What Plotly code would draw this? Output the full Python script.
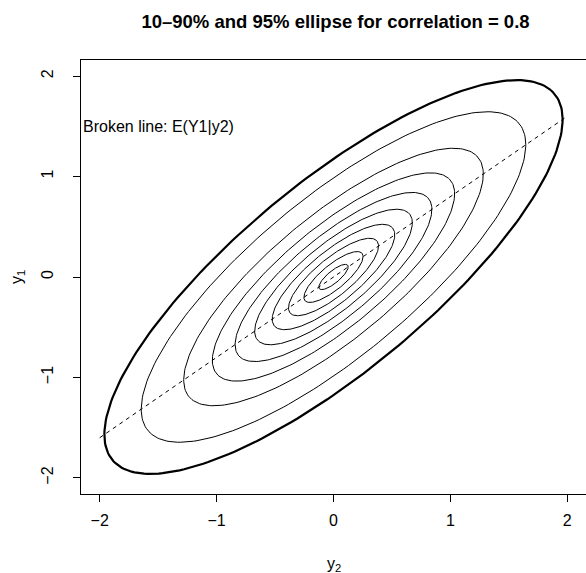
import numpy as np
import plotly.graph_objects as go
from statistics import NormalDist

# ---- data ----
rho = 0.8
inner_levels = [0.1, 0.2, 0.3, 0.4, 0.5, 0.6, 0.7, 0.8, 0.9]
outer_level = 0.95
line_y2 = [-2, 2]
x_ticks = [-2, -1, 0, 1, 2]
y_ticks = [-2, -1, 0, 1, 2]
note_text = "Broken line: E(Y1|y2)"
note_pos = (-1.5, 1.5)
title_text = "10\u201390% and 95% ellipse for correlation = 0.8"

FONT = "Liberation Sans, Arial, Helvetica, sans-serif"
FS = 16


def ellipse(level, r, n=240):
    t = NormalDist().inv_cdf(1 - (1 - level) / 2)
    d = np.arccos(r)
    a = np.linspace(0, 2 * np.pi, n)
    return t * np.cos(a + d / 2), t * np.cos(a - d / 2)


fig = go.Figure()
for lv in inner_levels:
    x, y = ellipse(lv, rho)
    fig.add_trace(go.Scatter(x=x, y=y, mode="lines",
                             line=dict(color="black", width=1),
                             showlegend=False, hoverinfo="skip"))
x, y = ellipse(outer_level, rho)
fig.add_trace(go.Scatter(x=x, y=y, mode="lines",
                         line=dict(color="black", width=2.2),
                         showlegend=False, hoverinfo="skip"))
fig.add_trace(go.Scatter(x=line_y2, y=[rho * v for v in line_y2], mode="lines",
                         line=dict(color="black", width=1, dash="4px,4px"),
                         showlegend=False, hoverinfo="skip"))

fig.add_annotation(x=note_pos[0], y=note_pos[1], text=note_text, showarrow=False,
                   xanchor="center", yanchor="middle",
                   font=dict(family=FONT, size=FS, color="black"))

# axis titles
fig.add_annotation(xref="paper", yref="paper", x=(333.5 - 81) / 505, y=-(564 - 494) / 434,
                   text="y<sub>2</sub>", showarrow=False, xanchor="center",
                   yanchor="middle", font=dict(family=FONT, size=FS, color="black"))
fig.add_annotation(xref="paper", yref="paper", x=(17 - 81) / 505, y=0.5,
                   text="y<sub>1</sub>", showarrow=False, textangle=-90,
                   xanchor="center", yanchor="middle",
                   font=dict(family=FONT, size=FS, color="black"))

fig.update_layout(
    width=586, height=573,
    margin=dict(l=81, r=0, t=60, b=79),
    paper_bgcolor="white", plot_bgcolor="white",
    font=dict(family=FONT, size=FS, color="black"),
    title=dict(text="<b>" + title_text + "</b>", x=335.5 / 586, xanchor="center",
               y=1 - 22 / 573, yanchor="middle",
               font=dict(family=FONT, size=18.5, color="black")),
    xaxis=dict(range=[-2.16, 2.16], tickvals=x_ticks,
               ticktext=[str(v).replace("-", "\u2212") for v in x_ticks],
               showgrid=False, zeroline=False, showline=True, mirror=True,
               linecolor="black", linewidth=1, ticks="outside", ticklen=7,
               tickcolor="black", tickwidth=1, ticklabelstandoff=5,
               tickfont=dict(family=FONT, size=FS, color="black")),
    yaxis=dict(range=[-2.16, 2.16], tickvals=y_ticks,
               ticktext=[str(v).replace("-", "\u2212") for v in y_ticks],
               showgrid=False, zeroline=False, showline=True, mirror=False,
               linecolor="black", linewidth=1, ticks="outside", ticklen=7,
               tickcolor="black", tickwidth=1, tickangle=-90, ticklabelstandoff=14,
               tickfont=dict(family=FONT, size=FS, color="black")),
)

fig.write_html("out.html", config={"displayModeBar": False},
               post_script="document.body.style.margin='0';document.body.style.padding='0';")
